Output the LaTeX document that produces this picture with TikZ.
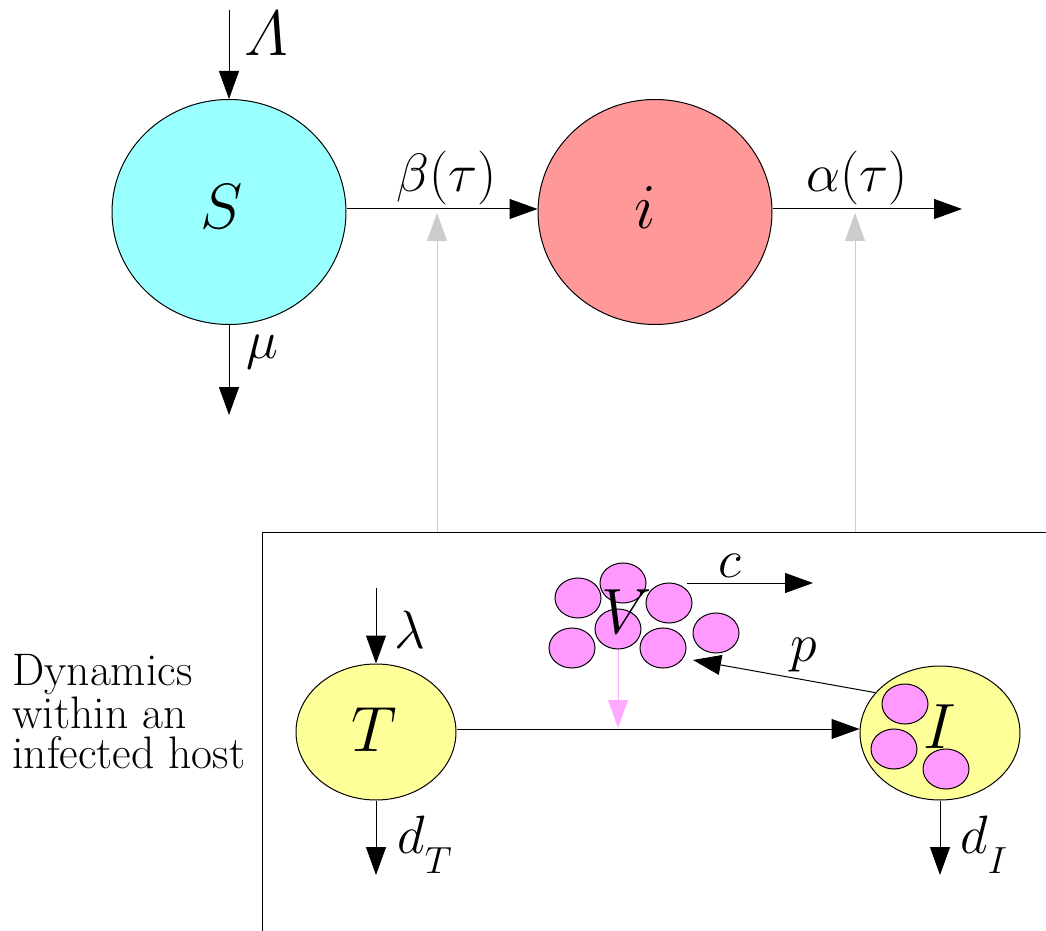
\documentclass[tikz,border=0pt]{standalone}
\usepackage{fix-cm}
\usepackage{fontspec}
\usetikzlibrary{arrows.meta,shapes.geometric}
\definecolor{scol}{HTML}{99FFFF}
\definecolor{icol}{HTML}{FF9999}
\definecolor{tcol}{HTML}{FFFF99}
\definecolor{vcol}{HTML}{FF99FF}
\definecolor{parr}{HTML}{FFAAFF}
\definecolor{garr}{HTML}{CCCCCC}
\tikzset{
  arr/.style={-{Triangle[length=14pt,width=10pt]}, line width=0.5pt},
  comp/.style={ellipse, draw, line width=0.5pt, inner sep=0pt},
  virus/.style={ellipse, draw, fill=vcol, minimum width=23pt, minimum height=20pt, inner sep=0pt, line width=0.5pt},
  lbl/.style={inner sep=0pt, font=\fontsize{27}{30}\selectfont},
  big/.style={inner sep=0pt, font=\fontsize{32}{36}\selectfont},
  txt/.style={inner sep=0pt, align=left, font=\fontsize{22.8}{20}\selectfont}
}
\begin{document}
\begin{tikzpicture}[x=0.5pt,y=-0.5pt]
\useasboundingbox (0,0) rectangle (1046,931);

% between-host compartments
\node[comp, fill=scol, minimum width=117pt, minimum height=112.5pt] (S) at (229,212) {};
\node[comp, fill=icol, minimum width=117pt, minimum height=112.5pt] (i) at (655,212) {};
\node[big] (Slab) at (222,207) {$S$};
\node[big] (ilab) at (645,208) {$i$};

\coordinate (Lin) at (229,10);
\coordinate (muout) at (229,415);
\coordinate (aout) at (962,209);
\draw[arr] (Lin) -- (S.north);
\draw[arr] (S.south) -- (muout);
\draw[arr] (S.east |- 0,209) -- (i.west |- 0,209);
\draw[arr] (i.east |- 0,209) -- (aout);
\node[big] (Llab) at (266,34) {$\mathnormal{\Lambda}$};
\node[lbl] (mulab) at (262,352) {$\mu$};
\node[lbl] (blab) at (447,178) {$\beta(\tau)$};
\node[lbl] (alab) at (857,178) {$\alpha(\tau)$};

% frame
\coordinate (f1) at (262,931);
\coordinate (f2) at (262,532);
\coordinate (f3) at (1046,532);
\draw[line width=0.5pt] (f1) -- (f2) -- (f3);

% gray links
\coordinate (g1) at (437,532);
\coordinate (g1e) at (437,213);
\coordinate (g2) at (855,532);
\coordinate (g2e) at (855,213);
\draw[arr, draw=garr, fill=garr] (g1) -- (g1e);
\draw[arr, draw=garr, fill=garr] (g2) -- (g2e);

\node[txt, anchor=west] (dyn) at (12,712) {Dynamics\\within an\\infected host};

% within-host
\node[comp, fill=tcol, minimum width=80pt, minimum height=68pt] (T) at (376,732) {};
\node[big] (Tlab) at (374,730) {$T$};
\node[comp, fill=tcol, minimum width=80pt, minimum height=67pt] (I) at (940,733) {};

\node[virus] (iv1) at (905,704) {};
\node[virus] (iv2) at (894,749) {};
\node[virus] (iv3) at (946,769) {};
\node[big] (Ilab) at (940,727) {$I$};

\coordinate (lin) at (376,588);
\coordinate (dTout) at (376,875);
\coordinate (dIout) at (940,875);
\draw[arr] (lin) -- (T.north);
\draw[arr] (T.south) -- (dTout);
\draw[arr] (I.south) -- (dIout);
\draw[arr] (T.east |- 0,729) -- (I.west |- 0,729);
\node[lbl] (llab) at (410,630) {$\lambda$};
\node[lbl, anchor=base west] (dTlab) at (397,853) {$d_{\lower 6pt\hbox{$\scriptstyle T$}}$};
\node[lbl, anchor=base west] (dIlab) at (960,853) {$d_{\lower 6pt\hbox{$\scriptstyle I$}}$};

% virus cluster
\node[virus] (v1) at (623,583) {};
\node[virus] (v2) at (578,598) {};
\node[virus] (v3) at (669,603) {};
\node[virus] (v5) at (572,648) {};
\node[virus] (v6) at (663,648) {};
\node[virus] (v7) at (716,633) {};
\node[virus] (v4) at (618,629) {};
\node[big] (Vlab) at (627,612) {$V$};

\coordinate (pink) at (618,728);
\draw[arr, draw=parr, fill=parr] (v4.south) -- (pink);

\coordinate (cs) at (687,583);
\coordinate (ce) at (813,583);
\draw[arr] (cs) -- (ce);
\node[lbl] (clab) at (730,566) {$c$};

\coordinate (pe) at (693,660);
\draw[arr] (I.148) -- (pe);
\node[lbl] (plab) at (804,655) {$p$};
\end{tikzpicture}
\end{document}
